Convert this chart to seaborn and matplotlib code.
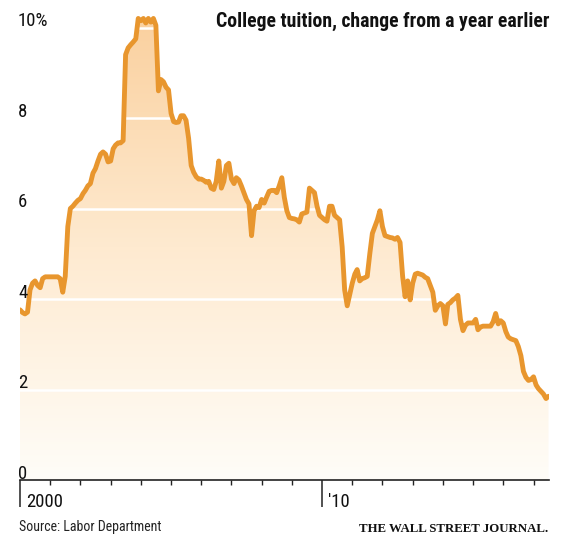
import numpy as np
import pandas as pd
import matplotlib
matplotlib.use("Agg")
import matplotlib.pyplot as plt
import matplotlib.dates as mdates
from matplotlib.colors import LinearSegmentedColormap
import seaborn as sns

# ---------------- data (monthly, % change from a year earlier) ----------------
start_month = "2000-01-01"
tuition_yoy = [
    # 2000
    3.76, 3.70, 3.67, 3.71, 4.20, 4.35, 4.40, 4.30, 4.25, 4.45, 4.49, 4.49,
    # 2001
    4.49, 4.49, 4.49, 4.49, 4.45, 4.15, 4.50, 5.60, 6.00, 6.05, 6.12, 6.18,
    # 2002
    6.22, 6.33, 6.40, 6.50, 6.55, 6.78, 6.88, 7.05, 7.20, 7.25, 7.20, 7.03,
    # 2003
    7.05, 7.32, 7.40, 7.45, 7.45, 7.50, 9.40, 9.55, 9.62, 9.68, 9.75, 10.20,
    # 2004
    10.15, 10.20, 10.10, 10.20, 10.12, 10.20, 10.05, 8.60, 8.85, 8.80, 8.68, 8.62,
    # 2005
    8.10, 7.92, 7.90, 7.91, 8.05, 8.05, 7.95, 7.55, 6.95, 6.80, 6.70, 6.65,
    # 2006
    6.65, 6.62, 6.58, 6.60, 6.45, 6.42, 6.60, 7.05, 6.45, 6.60, 6.95, 7.00,
    # 2007
    6.65, 6.55, 6.68, 6.63, 6.50, 6.35, 6.20, 6.10, 5.40, 5.95, 6.05, 6.02,
    # 2008
    6.20, 6.12, 6.25, 6.38, 6.40, 6.40, 6.35, 6.50, 6.68, 6.25, 5.95, 5.80,
    # 2009
    5.78, 5.77, 5.75, 5.70, 5.88, 5.90, 5.92, 6.45, 6.40, 6.35, 6.05, 5.85,
    # 2010
    5.80, 5.75, 5.72, 6.05, 6.05, 5.85, 5.80, 5.75, 5.15, 4.20, 3.85, 4.10,
    # 2011
    4.35, 4.55, 4.65, 4.40, 4.45, 4.47, 4.50, 5.00, 5.45, 5.60, 5.75, 5.95,
    # 2012
    5.60, 5.40, 5.38, 5.36, 5.35, 5.32, 5.36, 5.25, 4.50, 4.05, 4.40, 3.98,
    # 2013
    4.35, 4.55, 4.57, 4.55, 4.53, 4.48, 4.45, 4.30, 4.15, 3.75, 3.85, 3.90,
    # 2014
    3.85, 3.45, 3.88, 3.92, 3.98, 4.02, 4.08, 3.55, 3.30, 3.42, 3.47, 3.47,
    # 2015
    3.47, 3.55, 3.32, 3.38, 3.40, 3.40, 3.40, 3.40, 3.50, 3.68, 3.45, 3.52,
    # 2016
    3.47, 3.28, 3.16, 3.12, 3.10, 3.08, 2.95, 2.75, 2.40, 2.27, 2.20, 2.22,
    # 2017
    2.28, 2.10, 2.02, 1.96, 1.90, 1.80, 1.85,
]
y_ticks = [0, 2, 4, 6, 8, 10]
y_tick_labels = ["0", "2", "4", "6", "8", "10%"]
x_major_years = [2000, 2010]
x_major_labels = ["2000", "'10"]
title_text = "College tuition, change from a year earlier"
source_text = "Source: Labor Department"
brand_text = "THE WALL STREET JOURNAL."

dates = pd.date_range(start_month, periods=len(tuition_yoy), freq="MS")
df = pd.DataFrame({"date": dates, "value": tuition_yoy})

# ---------------- style ----------------
sns.set_style("white")
SANS = ["Liberation Sans Narrow", "Roboto Condensed", "DejaVu Sans"]
plt.rcParams["font.family"] = SANS

LINE = "#E8962E"
W, H = 566, 536
fig = plt.figure(figsize=(W / 100, H / 100), dpi=100)
ax_left, ax_right, ax_bottom, ax_top = 20, 548.5, 480, 5
ax = fig.add_axes([ax_left / W, 1 - ax_bottom / H, (ax_right - ax_left) / W,
                   (ax_bottom - ax_top) / H])

xmin = mdates.date2num(dates[0])
xmax = mdates.date2num(dates[-1])
ymax = (ax_bottom - ax_top) / 45.25

# gradient fill under the line
cmap = LinearSegmentedColormap.from_list("g", ["#FFFDF8", "#FEEAD0", "#FAD09E"])
grad = np.linspace(0, 1, 256).reshape(-1, 1)
im = ax.imshow(grad, extent=[xmin, xmax, 0, 10.3], origin="lower",
               aspect="auto", cmap=cmap, zorder=1, interpolation="bilinear")
poly = ax.fill_between(df["date"], df["value"], 0, color="none", lw=0)
im.set_clip_path(poly.get_paths()[0], transform=ax.transData)

# white gridlines (only visible over the fill)
for v in y_ticks[1:]:
    ax.axhline(v, color="white", lw=1.8, zorder=2)

sns.lineplot(data=df, x="date", y="value", color=LINE, lw=3.5, ax=ax,
             zorder=3, solid_joinstyle="round", solid_capstyle="round")

ax.set_xlim(xmin, xmax)
ax.set_ylim(0, ymax)
ax.set_xlabel("")
ax.set_ylabel("")

for s in ["left", "right", "top"]:
    ax.spines[s].set_visible(False)
ax.spines["bottom"].set_color("#222222")
ax.spines["bottom"].set_linewidth(1.2)
ax.spines["bottom"].set_zorder(4)

ax.set_yticks([])
major_locs = [mdates.date2num(pd.Timestamp(f"{y}-01-01")) for y in x_major_years]
ax.xaxis.set_major_locator(matplotlib.ticker.FixedLocator(major_locs))
ax.xaxis.set_minor_locator(mdates.YearLocator())
ax.set_xticklabels([""] * len(major_locs))
ax.tick_params(axis="x", which="both", bottom=True, top=False)
ax.tick_params(axis="x", which="major", length=19.5, width=1.1, color="#222222",
               direction="out")
ax.tick_params(axis="x", which="minor", length=3.5, width=1.0, color="#222222",
               direction="out")

TICK_FS = 13.5
for loc, lab in zip(major_locs, x_major_labels):
    ax.annotate(lab, xy=(loc, 0), xycoords=("data", "axes fraction"),
                xytext=(4.6, -19.2), textcoords="offset points",
                ha="left", va="baseline", fontsize=TICK_FS, color="#111111")

for v, lab in zip(y_ticks, y_tick_labels):
    ax.annotate(lab, xy=(0, v), xycoords=("axes fraction", "data"),
                xytext=(-1.4, 1.0), textcoords="offset points",
                ha="left", va="baseline", fontsize=TICK_FS, color="#111111")

t_title = fig.text(549 / W, 1 - 27 / H, title_text, ha="right", va="baseline",
                   fontsize=15, fontweight="bold", color="#111111")
t_src = fig.text(19 / W, 1 - 531 / H, source_text, ha="left", va="baseline",
                 fontsize=10.5, color="#222222")
t_wsj = fig.text(548 / W, 1 - 532 / H, brand_text, ha="right", va="baseline",
                 fontsize=10.5, fontweight="bold", color="#111111",
                 family=["Liberation Serif", "DejaVu Serif"])

# fit text widths to the reference
renderer = fig.canvas.get_renderer()
for t, target in [(t_title, 333), (t_src, 144), (t_wsj, 191)]:
    bb = t.get_window_extent(renderer)
    t.set_fontsize(t.get_fontsize() * target / bb.width)

fig.savefig("out.png", dpi=100, facecolor="white")
